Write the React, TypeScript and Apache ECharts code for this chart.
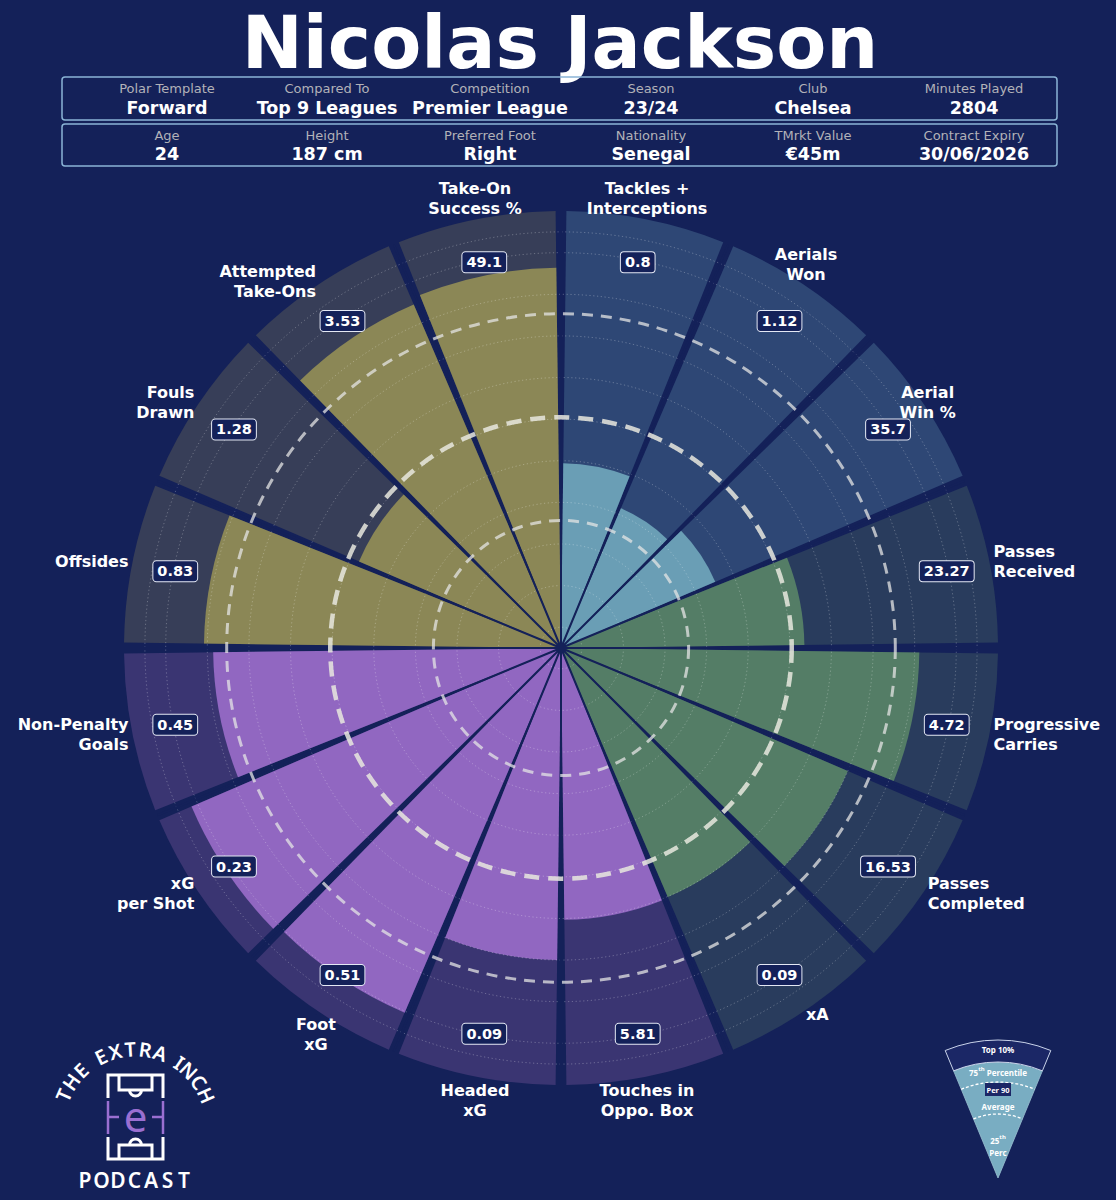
import React, { useEffect, useRef } from 'react';
import * as echarts from 'echarts';

// ---------- DATA ----------
const metrics = [
  'Tackles +\nInterceptions', 'Aerials\nWon', 'Aerial\nWin %', 'Passes\nReceived',
  'Progressive\nCarries', 'Passes\nCompleted', 'xA', 'Touches in\nOppo. Box',
  'Headed\nxG', 'Foot\nxG', 'xG\nper Shot', 'Non-Penalty\nGoals',
  'Offsides', 'Fouls\nDrawn', 'Attempted\nTake-Ons', 'Take-On\nSuccess %',
];
const per90 = ['0.8', '1.12', '35.7', '23.27', '4.72', '16.53', '0.09', '5.81', '0.09', '0.51', '0.23', '0.45', '0.83', '1.28', '3.53', '49.1'];
const percentiles = [42.3, 34.8, 38.4, 55.7, 82, 71.4, 62, 62.2, 71.4, 90.8, 92, 79.6, 81.7, 50.3, 85.5, 87];
const groupOf = [0, 0, 0, 1, 1, 1, 1, 2, 2, 2, 2, 2, 3, 3, 3, 3];
const benchmarks = [29.2, 52.8, 76.5]; // 25th percentile, average, 75th percentile

const row1Labels = ['Polar Template', 'Compared To', 'Competition', 'Season', 'Club', 'Minutes Played'];
const row1Values = ['Forward', 'Top 9 Leagues', 'Premier League', '23/24', 'Chelsea', '2804'];
const row2Labels = ['Age', 'Height', 'Preferred Foot', 'Nationality', 'TMrkt Value', 'Contract Expiry'];
const row2Values = ['24', '187 cm', 'Right', 'Senegal', '€45m', '30/06/2026'];
const playerName = 'Nicolas Jackson';

// ---------- STYLE ----------
const BG = '#142159';
const bgColors = ['#2e4775', '#293c5d', '#3a3572', '#373e58'];
const valColors = ['#6a9eb5', '#547d66', '#9167c1', '#8b8756'];
const FONT = '"DejaVu Sans", sans-serif';
const LOGO_FONT = '"Noto Sans", sans-serif';
const CX = 561;
const CY = 648;
const R = 437;
const R_LABEL = 441;

function labelAlign(i: number) {
  const a = 11.25 + 22.5 * i;
  if (a < 50 || a > 337.5) return { align: 'center', verticalAlign: 'bottom', offset: [0, 3] };
  if (a < 67.5) return { align: 'center', verticalAlign: 'middle' };
  if (a < 157.5) return { align: 'left', verticalAlign: 'middle' };
  if (a < 225) return { align: 'center', verticalAlign: 'top' };
  return { align: 'right', verticalAlign: 'middle' };
}

function buildGraphic() {
  const g: any[] = [];
  // title
  g.push({
    type: 'text', x: 560, y: 42, z: 20,
    style: { text: playerName, align: 'center', verticalAlign: 'middle', fill: '#ffffff', font: `bold 73px ${FONT}` },
  });
  // info boxes
  const colX = [167, 327, 490, 651, 813, 974];
  const boxes = [
    { y: 77, h: 43, labels: row1Labels, values: row1Values, ly: 88.5, vy: 108 },
    { y: 124, h: 42, labels: row2Labels, values: row2Values, ly: 135.5, vy: 154 },
  ];
  boxes.forEach((b) => {
    g.push({
      type: 'rect', z: 20, shape: { x: 62, y: b.y, width: 995, height: b.h, r: 3 },
      style: { fill: 'none', stroke: '#8ab4d6', lineWidth: 1.5 },
    });
    b.labels.forEach((t, i) => {
      g.push({ type: 'text', x: colX[i], y: b.ly, z: 20, style: { text: t, align: 'center', verticalAlign: 'middle', fill: '#b2b2b8', font: `13px ${FONT}` } });
      g.push({ type: 'text', x: colX[i], y: b.vy, z: 20, style: { text: b.values[i], align: 'center', verticalAlign: 'middle', fill: '#ffffff', font: `bold 17.5px ${FONT}` } });
    });
  });

  // legend wedge
  const lx = 998, ly = 1178;
  const half = Math.PI / 8;
  const sa = -Math.PI / 2 - half, ea = -Math.PI / 2 + half;
  g.push({ type: 'sector', z: 20, shape: { cx: lx, cy: ly, r0: 0, r: 116, startAngle: sa, endAngle: ea }, style: { fill: '#79adc2', stroke: '#9cc3d3', lineWidth: 0.8 } });
  g.push({ type: 'sector', z: 20, shape: { cx: lx, cy: ly, r0: 116, r: 138, startAngle: sa, endAngle: ea }, style: { fill: '#1b2766', stroke: '#c9d3ea', lineWidth: 1 } });
  [96, 64].forEach((r) => {
    g.push({ type: 'arc', z: 21, shape: { cx: lx, cy: ly, r, startAngle: sa, endAngle: ea }, style: { fill: 'none', stroke: '#ffffff', lineWidth: 1.3, lineDash: [3, 2] } });
  });
  const lfont = `bold 8px "Noto Sans", sans-serif`;
  g.push({ type: 'text', x: lx, y: 1049, z: 22, style: { text: 'Top 10%', align: 'center', verticalAlign: 'middle', fill: '#ffffff', font: lfont } });
  g.push({
    type: 'text', x: lx, y: 1072, z: 22,
    style: {
      text: '{a|75}{s|th}{a| Percentile}', align: 'center', verticalAlign: 'middle',
      rich: { a: { fill: '#ffffff', font: lfont }, s: { fill: '#ffffff', font: `bold 6px "Noto Sans", sans-serif`, padding: [0, 0, 6, 0] } },
    },
  });
  g.push({ type: 'rect', z: 22, shape: { x: 985, y: 1083, width: 26, height: 13 }, style: { fill: '#1b2766' } });
  g.push({ type: 'text', x: lx, y: 1089.5, z: 23, style: { text: 'Per 90', align: 'center', verticalAlign: 'middle', fill: '#ffffff', font: `bold 7.5px "Noto Sans", sans-serif` } });
  g.push({ type: 'text', x: lx, y: 1106, z: 22, style: { text: 'Average', align: 'center', verticalAlign: 'middle', fill: '#ffffff', font: lfont } });
  g.push({
    type: 'text', x: lx, y: 1140, z: 22,
    style: {
      text: '{a|25}{s|th}', align: 'center', verticalAlign: 'middle',
      rich: { a: { fill: '#ffffff', font: lfont }, s: { fill: '#ffffff', font: `bold 6px "Noto Sans", sans-serif`, padding: [0, 0, 6, 0] } },
    },
  });
  g.push({ type: 'text', x: lx, y: 1152, z: 22, style: { text: 'Perc', align: 'center', verticalAlign: 'middle', fill: '#ffffff', font: lfont } });

  // logo: arced text with proportional angular widths
  const logoText = 'THE EXTRA INCH';
  const widthOf = (ch: string) => (ch === ' ' ? 6.5 : ch === 'I' ? 7 : 11.2);
  const centers: number[] = [];
  let acc = 0;
  for (let k = 0; k < logoText.length; k++) {
    const w = widthOf(logoText[k]);
    centers.push(acc + w / 2);
    acc += w;
  }
  for (let k = 0; k < logoText.length; k++) {
    const ch = logoText[k];
    if (ch === ' ') continue;
    const phi = ((centers[k] - acc / 2) * Math.PI) / 180;
    g.push({
      type: 'text', z: 20,
      x: 135 + 78 * Math.sin(phi), y: 1127 - 78 * Math.cos(phi), rotation: -phi,
      style: { text: ch, align: 'center', verticalAlign: 'middle', fill: '#ffffff', font: `600 20px ${LOGO_FONT}` },
    });
  }
  const podcast = 'PODCAST';
  for (let k = 0; k < podcast.length; k++) {
    g.push({
      type: 'text', z: 20, x: 85 + k * 16.5, y: 1180,
      style: { text: podcast[k], align: 'center', verticalAlign: 'middle', fill: '#ffffff', font: `600 21px ${LOGO_FONT}` },
    });
  }
  // pitch icon
  const W = '#ffffff', P = '#9a6fd1';
  const line = (pts: number[][], color: string, w = 3) => g.push({ type: 'polyline', z: 20, shape: { points: pts }, style: { stroke: color, lineWidth: w, fill: 'none' } });
  line([[108, 1098], [108, 1075], [163, 1075], [163, 1098]], W);
  line([[119, 1075], [119, 1090], [152, 1090], [152, 1075]], W);
  g.push({ type: 'arc', z: 20, shape: { cx: 135.5, cy: 1090, r: 6, startAngle: 0, endAngle: Math.PI }, style: { stroke: W, lineWidth: 3, fill: 'none' } });
  line([[108, 1137], [108, 1159], [163, 1159], [163, 1137]], W);
  line([[119, 1159], [119, 1145], [152, 1145], [152, 1159]], W);
  g.push({ type: 'arc', z: 20, shape: { cx: 135.5, cy: 1145, r: 6, startAngle: Math.PI, endAngle: 2 * Math.PI }, style: { stroke: W, lineWidth: 3, fill: 'none' } });
  line([[108, 1101], [108, 1134]], P, 2.5);
  line([[108, 1117], [119, 1117]], P, 2.5);
  line([[163, 1101], [163, 1134]], P, 2.5);
  line([[152, 1117], [163, 1117]], P, 2.5);
  g.push({ type: 'text', z: 20, x: 135.5, y: 1115, style: { text: 'e', align: 'center', verticalAlign: 'middle', fill: P, font: `42px ${LOGO_FONT}` } });
  return g;
}

export default function App() {
  const ref = useRef<HTMLDivElement>(null);
  useEffect(() => {
    document.body.style.margin = '0';
    document.body.style.background = BG;
    const chart = echarts.init(ref.current!, null, { renderer: 'svg' });
    const hidden = { axisLine: { show: false }, axisTick: { show: false }, axisLabel: { show: false }, splitLine: { show: false } };
    const option: any = {
      animation: false,
      backgroundColor: BG,
      polar: [
        { center: [CX, CY], radius: [0, R] },
        { center: [CX, CY], radius: [20.8, 416.1] },
        { center: [CX, CY], radius: [0, R_LABEL] },
      ],
      angleAxis: [
        {
          polarIndex: 0, type: 'category', data: metrics, startAngle: 90, clockwise: true, boundaryGap: true, z: 4,
          axisLine: { show: false }, axisTick: { show: false }, axisLabel: { show: false },
          splitLine: { show: true, interval: 0, lineStyle: { color: BG, width: 2 } },
        },
        { polarIndex: 1, type: 'value', min: 0, max: 360, ...hidden },
        { polarIndex: 2, type: 'category', data: metrics, startAngle: 90, clockwise: true, boundaryGap: true, ...hidden },
      ],
      radiusAxis: [
        { polarIndex: 0, type: 'value', min: 0, max: 100, ...hidden },
        {
          polarIndex: 1, type: 'value', min: 0, max: 9.5, interval: 1, z: 3,
          axisLine: { show: false }, axisTick: { show: false }, axisLabel: { show: false },
          splitLine: { show: true, lineStyle: { color: 'rgba(255,255,255,0.28)', width: 1, type: [1.2, 2.6] } },
        },
        { polarIndex: 2, type: 'value', min: 0, max: 100, ...hidden },
      ],
      series: [
        {
          type: 'bar', coordinateSystem: 'polar', polarIndex: 0, z: 1, silent: true,
          barGap: '-100%', barCategoryGap: '6.3%',
          data: metrics.map((_, i) => ({ value: 100, itemStyle: { color: bgColors[groupOf[i]] } })),
        },
        {
          type: 'bar', coordinateSystem: 'polar', polarIndex: 0, z: 2, silent: true,
          barGap: '-100%', barCategoryGap: '6.3%',
          data: percentiles.map((v, i) => ({ value: v, itemStyle: { color: valColors[groupOf[i]] } })),
        },
        {
          type: 'custom', coordinateSystem: 'polar', polarIndex: 0, z: 6, silent: true,
          data: benchmarks.map((b) => [b, 0]),
          renderItem: (params: any, api: any) => {
            const cs = params.coordSys;
            const p = api.coord([api.value(0), api.value(1)]);
            const r = Math.hypot(p[0] - cs.cx, p[1] - cs.cy);
            const avg = params.dataIndex === 1;
            return {
              type: 'circle', shape: { cx: cs.cx, cy: cs.cy, r },
              style: { fill: 'none', stroke: avg ? 'rgba(232,232,222,0.85)' : 'rgba(228,228,228,0.75)', lineWidth: avg ? 4.5 : 3, lineDash: avg ? [15, 9] : [11, 8] },
            };
          },
        },
        {
          type: 'scatter', coordinateSystem: 'polar', polarIndex: 0, z: 10, silent: true,
          symbolSize: 0.5, itemStyle: { color: BG, opacity: 1 },
          data: per90.map((v, i) => ({ value: [90, i], name: v })),
          label: {
            show: true, position: 'inside', formatter: '{b}', color: '#ffffff', fontFamily: FONT, fontWeight: 'bold', fontSize: 14.5,
            textBorderWidth: 0, opacity: 1,
            backgroundColor: BG, borderColor: '#e4e8f4', borderWidth: 1, borderRadius: 3, padding: [3, 4, 2, 4],
          },
        },
        {
          type: 'scatter', coordinateSystem: 'polar', polarIndex: 2, z: 10, silent: true,
          symbolSize: 0.5, itemStyle: { color: BG, opacity: 1 },
          data: metrics.map((m, i) => ({ value: [100, i], name: m, label: labelAlign(i) })),
          label: {
            show: true, position: 'inside', formatter: '{b}', color: '#ffffff', fontFamily: FONT, fontWeight: 'bold', fontSize: 16, lineHeight: 20,
            textBorderWidth: 0,
          },
        },
      ],
      graphic: buildGraphic(),
    };
    chart.setOption(option);
    return () => chart.dispose();
  }, []);
  return <div ref={ref} style={{ width: 1116, height: 1200, background: BG }} />;
}
